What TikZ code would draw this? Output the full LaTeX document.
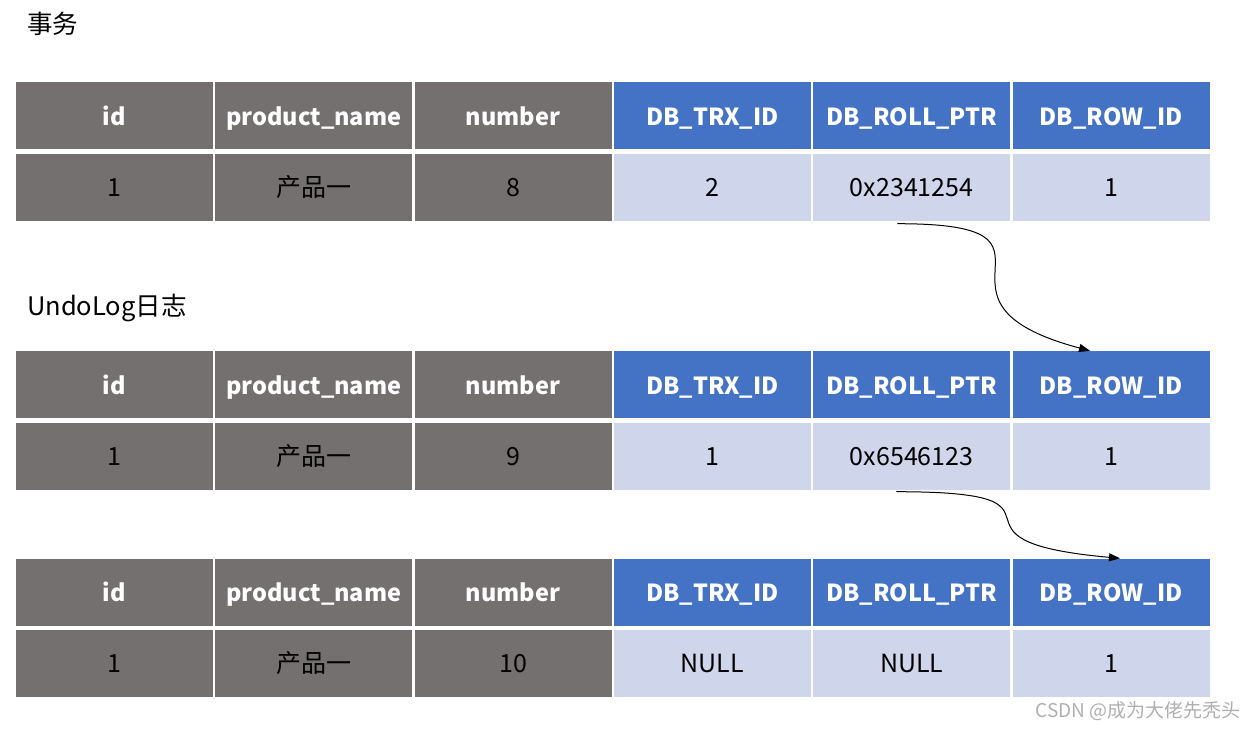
\documentclass[tikz,border=0pt]{standalone}
\usepackage{fontspec}
\setmainfont{Noto Sans CJK SC}
\usepackage{tikz}
\usetikzlibrary{arrows.meta}
\definecolor{hdrGray}{RGB}{117,112,112}
\definecolor{hdrBlue}{RGB}{68,114,196}
\definecolor{cellBlue}{RGB}{207,213,234}
\definecolor{markGray}{RGB}{175,175,175}

\begin{document}
\begin{tikzpicture}[x=1pt, y=-1pt, line cap=round,
	cell/.style={minimum width=197pt, minimum height=67pt, inner sep=0pt, text height=22pt, text depth=3pt, font=\fontsize{25}{29}\selectfont},
	ghead/.style={cell, fill=hdrGray, text=white, font=\fontsize{23.5}{28}\selectfont\bfseries},
	bhead/.style={cell, fill=hdrBlue, text=white, font=\fontsize{23.5}{28}\selectfont\bfseries},
	gdata/.style={cell, fill=hdrGray, text=black},
	bdata/.style={cell, fill=cellBlue, text=black},
	title/.style={anchor=west, inner sep=0pt, font=\fontsize{25.5}{30}\selectfont},
	link/.style={line width=1pt, -{Triangle[length=11pt, width=8pt]}}]
	\useasboundingbox (0,0) rectangle (1257,729);

	\node[title] (trx) at (27,24) {事务};
	\node[title] (undo) at (27,308) {UndoLog日志};

	% header rows
	\foreach \t/\y in {1/115.5, 2/384.5, 3/592}{
		\foreach \txt/\sty [count=\i] in {id/ghead, product\_name/ghead, number/ghead,
			DB\_TRX\_ID/bhead, DB\_ROLL\_PTR/bhead, DB\_ROW\_ID/bhead}
			\node[\sty] (h\t-\i) at ({114.5+199.3*(\i-1)},\y) {\txt};
	}

	% data rows
	\foreach \txt/\sty [count=\i] in {1/gdata, 产品一/gdata, 8/gdata, 2/bdata, 0x2341254/bdata, 1/bdata}
		\node[\sty] (d1-\i) at ({114.5+199.3*(\i-1)},187) {\txt};
	\foreach \txt/\sty [count=\i] in {1/gdata, 产品一/gdata, 9/gdata, 1/bdata, 0x6546123/bdata, 1/bdata}
		\node[\sty] (d2-\i) at ({114.5+199.3*(\i-1)},456) {\txt};
	\foreach \txt/\sty [count=\i] in {1/gdata, 产品一/gdata, 10/gdata, NULL/bdata, NULL/bdata, 1/bdata}
		\node[\sty] (d3-\i) at ({114.5+199.3*(\i-1)},663) {\txt};

	\draw[link] ([xshift=-14pt, yshift=-3pt]d1-5.south) .. controls +(195,0) and +(-188,-50) .. ([xshift=-21pt]h2-6.north);
	\draw[link] ([xshift=-15pt, yshift=-2pt]d2-5.south) .. controls +(200,0) and +(-200,-18) .. ([xshift=9pt]h3-6.north);

	\node[anchor=east, inner sep=0pt, text=markGray, font=\fontsize{19}{22}\selectfont] (mark) at (1241,711) {CSDN @成为大佬先秃头};
\end{tikzpicture}
\end{document}
